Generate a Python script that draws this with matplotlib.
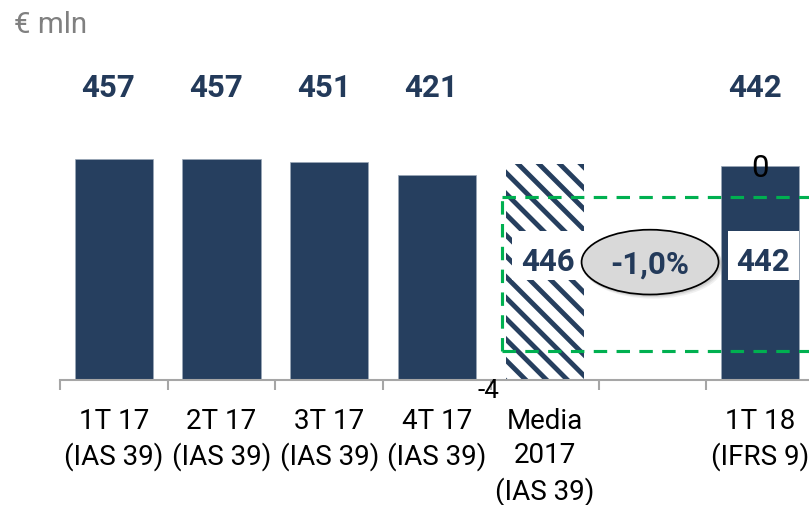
import matplotlib
matplotlib.use("Agg")
import matplotlib.pyplot as plt
from matplotlib.patches import Ellipse, Rectangle
from matplotlib.transforms import blended_transform_factory

# data
categories = ["1T 17\n(IAS 39)", "2T 17\n(IAS 39)", "3T 17\n(IAS 39)",
              "4T 17\n(IAS 39)", "Media\n2017\n(IAS 39)", "", "1T 18\n(IFRS 9)"]
quarter_pos = [0, 1, 2, 3]
quarter_vals = [457, 457, 451, 421]
avg_pos = 4
avg_val = 446
new_pos = 6
new_val = 442
delta_label = "-1,0%"
bridge_labels = ["-4", "0"]   # hidden bridge series labels left in the chart

NAVY = "#263f5f"
TXT = "#233a5a"
GREEN = "#00b050"

W, H, DPI = 809, 505, 125
plt.rcParams["font.family"] = ["Roboto", "DejaVu Sans"]
plt.rcParams["hatch.color"] = NAVY
plt.rcParams["hatch.linewidth"] = 2.8

fig = plt.figure(figsize=(W / DPI, H / DPI), dpi=DPI)
ax = fig.add_axes([60 / W, 125 / H, 754 / W, 380 / H])
ymin = -50
ymax = ymin + 380 / 0.435
ax.set_xlim(-0.5, 6.5)
ax.set_ylim(ymin, ymax)

bw = 0.727
ax.bar(quarter_pos, [v - ymin for v in quarter_vals], width=bw, bottom=ymin,
       color=NAVY, edgecolor="#9aa8b8", linewidth=0.4)
ax.bar([new_pos], [new_val - ymin], width=bw, bottom=ymin, color=NAVY,
       edgecolor="#9aa8b8", linewidth=0.4)
ax.bar([avg_pos], [avg_val - ymin], width=bw, bottom=ymin, color="white",
       edgecolor=NAVY, hatch="\\\\", linewidth=0)

# value labels on top row
tr = blended_transform_factory(ax.transData, ax.transAxes)
for x, v in zip(quarter_pos + [new_pos], quarter_vals + [new_val]):
    ax.text(x - 0.05, 0.768, str(v), transform=tr, ha="center", va="center",
            fontsize=18, fontweight="bold", color=TXT)

# dashed comparison box
ax.plot([3.604, 7], [370, 370], color=GREEN, lw=1.8, dashes=(4.3, 3.0), clip_on=False)
ax.plot([3.604, 7], [17, 17], color=GREEN, lw=1.8, dashes=(4.3, 3.0), clip_on=False)
ax.plot([3.604, 3.604], [17, 370], color=GREEN, lw=1.8, dashes=(4.3, 3.0))

# inner labels with white boxes
for x, v in [(avg_pos, avg_val), (new_pos, new_val)]:
    ax.add_patch(Rectangle((x - 0.3, 180), 0.664, 112, facecolor="white",
                           edgecolor="none", zorder=3))
    ax.text(x + 0.03, 222, str(v), ha="center", va="center", fontsize=18,
            fontweight="bold", color=TXT, zorder=4)

# delta ellipse
for dx, dy, a in [(0.03, -8, 0.12), (0.02, -5, 0.15), (0.01, -3, 0.2)]:
    ax.add_patch(Ellipse((4.978 + dx, 221 + dy), 1.30, 152, facecolor="#888888",
                         edgecolor="none", alpha=a, zorder=4))
ax.add_patch(Ellipse((4.978, 221), 1.272, 149, facecolor="#d9d9d9",
                     edgecolor="black", linewidth=1.0, zorder=5))
ax.text(4.978, 216, delta_label, ha="center", va="center", fontsize=18,
        fontweight="bold", color=TXT, zorder=6)

ax.text(3.474, -75, bridge_labels[0], ha="center", va="center", fontsize=15,
        color="black", clip_on=False)
ax.text(6.0, 437, bridge_labels[1], ha="center", va="center", fontsize=18,
        color="black", zorder=4)

# axes
for s in ["top", "left", "right"]:
    ax.spines[s].set_visible(False)
ax.spines["bottom"].set_color("#a6a6a6")
ax.spines["bottom"].set_linewidth(1.2)
ax.set_yticks([])
ax.set_xticks(range(7))
ax.set_xticklabels(categories, fontsize=16, color="black", linespacing=1.35)
ax.tick_params(axis="x", which="major", length=0, pad=16)
ax.set_xticks([i - 0.5 for i in range(8)], minor=True)
ax.tick_params(axis="x", which="minor", length=6, width=1.2, color="#a6a6a6")

fig.text(14 / W, 1 - 25 / H, "€ mln", fontsize=17, color="#808080",
         ha="left", va="center")

fig.savefig("out.png", dpi=DPI)
